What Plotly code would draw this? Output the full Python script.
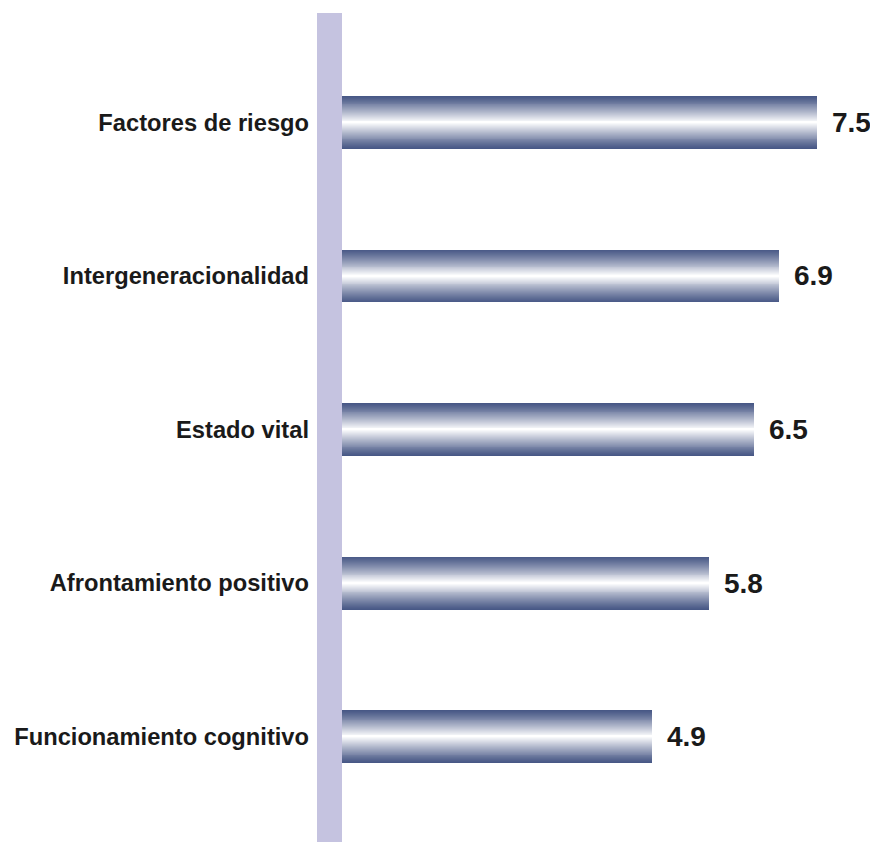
import plotly.graph_objects as go

# Data
categories = [
    "Factores de riesgo",
    "Intergeneracionalidad",
    "Estado vital",
    "Afrontamiento positivo",
    "Funcionamiento cognitivo",
]
values = [7.5, 6.9, 6.5, 5.8, 4.9]
value_labels = ["7.5", "6.9", "6.5", "5.8", "4.9"]

positions = list(range(len(categories)))

dark = (72, 88, 134)
light = (255, 255, 255)
bar_width = 0.345
n_layers = 28

fig = go.Figure()

# Build the metallic gradient by stacking narrower, lighter bars on top of each other
for i in range(n_layers):
    s = i / (n_layers - 1)
    g = s ** 1.15
    r, gr, b = [round(d + (l - d) * g) for d, l in zip(dark, light)]
    fig.add_trace(go.Bar(
        x=values,
        y=positions,
        orientation='h',
        width=bar_width * (1 - i / n_layers),
        marker=dict(color=f'rgb({r},{gr},{b})', line=dict(width=0)),
        hoverinfo='skip',
        showlegend=False,
    ))

# Value labels to the right of each bar
for v, p, txt in zip(values, positions, value_labels):
    fig.add_annotation(
        x=v, y=p, text=f"<b>{txt}</b>",
        showarrow=False, xanchor='left', xshift=13,
        font=dict(family="Liberation Sans, Arial", size=28, color='#1a1a1a'),
    )

# Lavender band standing in for the axis
fig.add_shape(
    type='rect', xref='paper', yref='paper',
    x0=-25 / 536, x1=0, y0=0, y1=1,
    fillcolor='#c5c3e0', line=dict(width=0), layer='below',
)

# page body adds an 8px margin, so the figure is 8px smaller than the window
fig.update_layout(
    width=870,
    height=834,
    margin=dict(l=334, r=0, t=5, b=0),
    barmode='overlay',
    bargap=0,
    plot_bgcolor='white',
    paper_bgcolor='white',
    font=dict(family="Liberation Sans, Arial", color='#1a1a1a'),
)

fig.update_xaxes(range=[0, 536 / 63.33], visible=False, fixedrange=True)
fig.update_yaxes(
    range=[4.687, -0.713],
    tickvals=positions,
    ticktext=[f"<b>{c}</b>" for c in categories],
    tickfont=dict(size=23.7, color='#1a1a1a'),
    ticks='',
    ticklabelstandoff=32,
    showgrid=False,
    zeroline=False,
    showline=False,
    fixedrange=True,
)

fig.write_html("out.html")
